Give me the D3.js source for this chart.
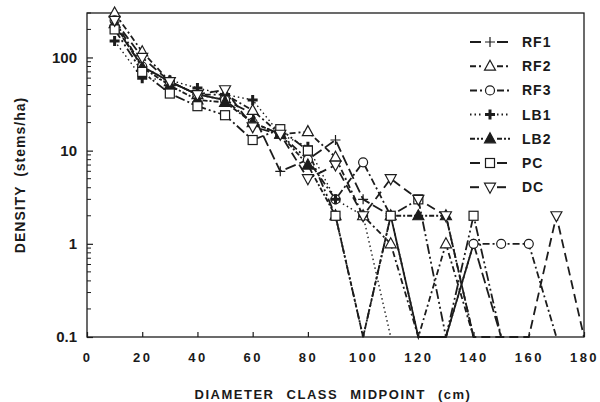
<!DOCTYPE html>
<html>
<head>
<meta charset="utf-8">
<script src="https://cdn.jsdelivr.net/npm/d3@7"></script>
<style>
  body { margin: 0; background: #fff; }
  text { font-family: "Liberation Sans", Arial, sans-serif; font-weight: bold; fill: #1a1a1a; }
</style>
</head>
<body>
<div id="chart"></div>
<script>
// chart data (0 = no stems, drawn on the 0.1 floor)
var midpoints = [10, 20, 30, 40, 50, 60, 70, 80, 90, 100, 110, 120, 130, 140, 150, 160, 170, 180];
var rf1 = [220, 80, 55, 40, 35, 25, 6, 8, 13, 3, 2, 0, 0, 1, 0];
var rf2 = [300, 115, 55, 40, 40, 27, 15, 16, 8.5, 2, 1, 0, 1, 0];
var rf3 = [250, 80, 55, 40, 35, 20, 15, 8, 3, 7.5, 2, 0, 0, 1, 1, 1, 0];
var lb1 = [150, 60, 57, 47, 40, 35, 15, 11, 3, 2, 0];
var lb2 = [230, 78, 50, 35, 33, 20, 15, 7, 2, 0, 2, 2, 2, 0];
var pc = [200, 70, 41, 30, 24, 13, 17, 10, 2, 0, 2, 3, 0, 2, 0];
var dc = [250, 100, 55, 40, 45, 18, 15, 5, 7, 2, 5, 3, 2, 0, 0, 0, 2, 0];
var seriesNames = ["RF1", "RF2", "RF3", "LB1", "LB2", "PC", "DC"];
var xTicks = [0, 20, 40, 60, 80, 100, 120, 140, 160, 180];
var yTicks = [0.1, 1, 10, 100];

var svgWidth = 600;
var svgHeight = 402;

var margin = { top: 13, right: 16, bottom: 65, left: 87 };
var width = svgWidth - margin.left - margin.right;
var height = svgHeight - margin.top - margin.bottom;

var svg = d3.select("#chart")
    .append("svg")
    .attr("width", svgWidth)
    .attr("height", svgHeight);

var chartGroup = svg.append("g")
    .attr("transform", `translate(${margin.left}, ${margin.top})`);

var xScale = d3.scaleLinear().domain([0, 180]).range([0, width]);
var yScale = d3.scaleLog().domain([0.1, 300]).range([height, 0]);

var ink = "#1c1c1c";

// styles per series: dash pattern and marker
var styles = {
    RF1: { data: rf1, dash: "11,4", marker: "plus" },
    RF2: { data: rf2, dash: "6,3,2,3", marker: "tri" },
    RF3: { data: rf3, dash: "7,3,2,3", marker: "circle" },
    LB1: { data: lb1, dash: "1.5,3", marker: "bigplus" },
    LB2: { data: lb2, dash: "5,2,2,2", marker: "filltri" },
    PC: { data: pc, dash: "10,3,2,3,2,3", marker: "square" },
    DC: { data: dc, dash: "9,5", marker: "dtri" }
};

function drawMarker(g, type, x, y) {
    if (type == "plus") {
        g.append("path").attr("d", `M${x - 5},${y}H${x + 5}M${x},${y - 5}V${y + 5}`)
            .attr("stroke", ink).attr("stroke-width", 1.2).attr("fill", "none");
    } else if (type == "bigplus") {
        g.append("path").attr("d", `M${x - 5},${y}H${x + 5}M${x},${y - 5}V${y + 5}`)
            .attr("stroke", ink).attr("stroke-width", 3).attr("fill", "none");
    } else if (type == "circle") {
        g.append("circle").attr("cx", x).attr("cy", y).attr("r", 4.5)
            .attr("fill", "#fff").attr("stroke", ink).attr("stroke-width", 1.2);
    } else if (type == "square") {
        g.append("rect").attr("x", x - 4.5).attr("y", y - 4.5).attr("width", 9).attr("height", 9)
            .attr("fill", "#fff").attr("stroke", ink).attr("stroke-width", 1.2);
    } else if (type == "tri" || type == "filltri") {
        g.append("path").attr("d", `M${x},${y - 6}L${x + 5.5},${y + 4}L${x - 5.5},${y + 4}Z`)
            .attr("fill", type == "tri" ? "#fff" : ink).attr("stroke", ink).attr("stroke-width", 1.2);
    } else if (type == "dtri") {
        g.append("path").attr("d", `M${x},${y + 6}L${x + 5.5},${y - 4}L${x - 5.5},${y - 4}Z`)
            .attr("fill", "#fff").attr("stroke", ink).attr("stroke-width", 1.2);
    }
}

// frame
chartGroup.append("rect")
    .attr("width", width).attr("height", height)
    .attr("fill", "none").attr("stroke", ink).attr("stroke-width", 1.3);

// x axis
var bottomAxis = d3.axisBottom(xScale).tickValues(xTicks).tickSize(-5).tickPadding(16);
var xAxisG = chartGroup.append("g")
    .attr("transform", `translate(0, ${height})`)
    .call(bottomAxis);
xAxisG.select(".domain").remove();
xAxisG.selectAll("line").attr("stroke", ink).attr("stroke-width", 1.2);
xAxisG.selectAll("text")
    .style("font-size", "13px").style("letter-spacing", "2.5px")
    .attr("fill", "#333");

// y axis: major ticks, then minor ticks
var leftAxis = d3.axisLeft(yScale).tickValues(yTicks).tickSize(-6).tickPadding(10)
    .tickFormat(d => d < 1 ? "0.1" : d3.format("d")(d));
var yAxisG = chartGroup.append("g").call(leftAxis);
yAxisG.select(".domain").remove();
yAxisG.selectAll("line").attr("stroke", ink).attr("stroke-width", 1.2);
yAxisG.selectAll("text").style("font-size", "15px");

var minor = [];
[0.1, 1, 10, 100].forEach(function(base) {
    for (var k = 2; k <= 9; k++) {
        if (base * k <= 300) minor.push(base * k);
    }
});
chartGroup.selectAll(".minor")
    .data(minor)
    .enter()
    .append("line")
    .attr("x1", 0).attr("x2", 4)
    .attr("y1", d => yScale(d)).attr("y2", d => yScale(d))
    .attr("stroke", ink).attr("stroke-width", 1);

// series lines
var line = d3.line()
    .x((d, i) => xScale(midpoints[i]))
    .y(d => yScale(d > 0 ? d : 0.1));

seriesNames.forEach(function(name) {
    var s = styles[name];
    chartGroup.append("path")
        .datum(s.data)
        .attr("d", line)
        .attr("fill", "none")
        .attr("stroke", ink)
        .attr("stroke-width", name == "LB1" ? 1.4 : 1.8)
        .attr("stroke-dasharray", s.dash);
});

// markers
seriesNames.forEach(function(name) {
    var s = styles[name];
    var g = chartGroup.append("g");
    s.data.forEach(function(v, i) {
        if (v > 0) drawMarker(g, s.marker, xScale(midpoints[i]), yScale(v));
    });
});

// legend
var legend = svg.append("g");
seriesNames.forEach(function(name, i) {
    var s = styles[name];
    var ly = 42 + i * 24.2;
    legend.append("line").attr("x1", 470).attr("x2", 483).attr("y1", ly).attr("y2", ly)
        .attr("stroke", ink).attr("stroke-width", 2).attr("stroke-dasharray", s.dash);
    legend.append("line").attr("x1", 497).attr("x2", 510).attr("y1", ly).attr("y2", ly)
        .attr("stroke", ink).attr("stroke-width", 2).attr("stroke-dasharray", s.dash);
    drawMarker(legend, s.marker, 490, ly);
    legend.append("text")
        .attr("x", 522).attr("y", ly + 5)
        .style("font-size", "14px")
        .style("letter-spacing", "1px")
        .text(name);
});

// axis labels
svg.append("text")
    .attr("transform", "translate(25, 175) rotate(-90)")
    .attr("text-anchor", "middle")
    .style("font-size", "14px")
    .style("letter-spacing", "1px")
    .style("word-spacing", "4px")
    .text("DENSITY (stems/ha)");

svg.append("text")
    .attr("x", 333)
    .attr("y", 399)
    .attr("text-anchor", "middle")
    .style("font-size", "13px")
    .style("letter-spacing", "1.5px")
    .style("word-spacing", "7px")
    .text("DIAMETER CLASS MIDPOINT (cm)");
</script>
</body>
</html>
